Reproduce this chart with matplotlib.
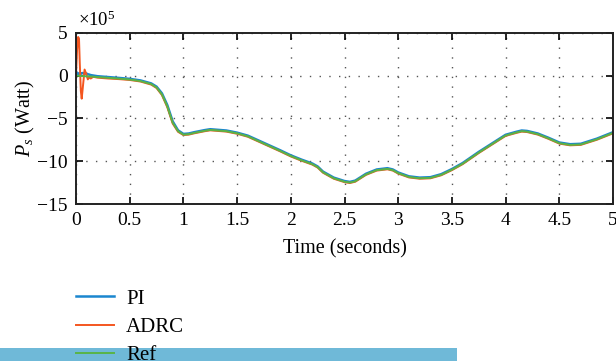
import matplotlib
matplotlib.use("Agg")
import matplotlib.pyplot as plt
from matplotlib.patches import Rectangle

plt.rcParams['font.family'] = ['Liberation Serif', 'DejaVu Serif']
plt.rcParams['mathtext.fontset'] = 'custom'
plt.rcParams['mathtext.rm'] = 'Liberation Serif'
plt.rcParams['mathtext.it'] = 'Liberation Serif:italic'

# time (s)
t = [0.0, 0.01, 0.02, 0.028, 0.035, 0.045, 0.053, 0.065, 0.08, 0.095, 0.11, 0.125, 0.137,
     0.16, 0.2, 0.3, 0.4, 0.5, 0.6, 0.7, 0.75, 0.8, 0.85, 0.9, 0.95, 1.0, 1.05, 1.1,
     1.2, 1.25, 1.3, 1.4, 1.5, 1.6, 1.75, 1.9, 2.0, 2.1, 2.2, 2.25, 2.3, 2.4, 2.5, 2.55,
     2.6, 2.7, 2.8, 2.9, 2.95, 3.0, 3.1, 3.2, 3.3, 3.4, 3.5, 3.6, 3.75, 3.9, 4.0, 4.1,
     4.15, 4.2, 4.3, 4.4, 4.5, 4.6, 4.7, 4.75, 4.85, 5.0]

# P_s values (x1e5 W)
ref = [0.0, -0.01, -0.02, -0.03, -0.04, -0.05, -0.06, -0.07, -0.08, -0.09, -0.1, -0.11, -0.12,
       -0.14, -0.18, -0.27, -0.36, -0.47, -0.65, -1.0, -1.4, -2.2, -3.6, -5.5, -6.5, -6.9, -6.85, -6.7,
       -6.45, -6.35, -6.4, -6.5, -6.75, -7.1, -7.95, -8.8, -9.4, -9.9, -10.35, -10.7, -11.3, -12.0, -12.4, -12.5,
       -12.35, -11.55, -11.05, -10.9, -11.05, -11.4, -11.85, -12.0, -11.95, -11.6, -11.0, -10.3, -9.0, -7.8, -7.0, -6.65,
       -6.5, -6.55, -6.85, -7.35, -7.9, -8.1, -8.05, -7.85, -7.45, -6.7]

pi = [0.0, 0.35, 0.1, 0.15, 0.3, 0.2, 0.25, 0.3, 0.2, 0.25, 0.15, 0.1, 0.05,
      0.0, -0.08, -0.18, -0.28, -0.39, -0.57, -0.92, -1.3, -2.08, -3.45, -5.35, -6.4, -6.82, -6.77, -6.62,
      -6.37, -6.27, -6.32, -6.42, -6.67, -7.02, -7.87, -8.72, -9.32, -9.82, -10.27, -10.62, -11.22, -11.92, -12.32, -12.42,
      -12.27, -11.47, -10.97, -10.82, -10.97, -11.32, -11.77, -11.92, -11.87, -11.52, -10.92, -10.22, -8.92, -7.72, -6.92, -6.57,
      -6.42, -6.47, -6.77, -7.27, -7.82, -8.02, -7.97, -7.77, -7.37, -6.62]

adrc = [0.0, 3.0, 4.5, 4.3, 1.5, -1.8, -2.7, -1.2, 0.7, 0.2, -0.45, -0.2, -0.35,
        -0.15, -0.25, -0.35, -0.42, -0.52, -0.7, -1.06, -1.46, -2.28, -3.7, -5.6, -6.57, -6.95, -6.9, -6.75,
        -6.5, -6.4, -6.45, -6.55, -6.8, -7.15, -8.0, -8.85, -9.45, -9.95, -10.4, -10.75, -11.35, -12.05, -12.45, -12.55,
        -12.4, -11.6, -11.1, -10.95, -11.1, -11.45, -11.9, -12.05, -12.0, -11.65, -11.05, -10.35, -9.05, -7.85, -7.05, -6.7,
        -6.55, -6.6, -6.9, -7.4, -7.95, -8.15, -8.1, -7.9, -7.5, -6.75]

x_ticks = [0, 0.5, 1, 1.5, 2, 2.5, 3, 3.5, 4, 4.5, 5]
x_labels = ['0', '0.5', '1', '1.5', '2', '2.5', '3', '3.5', '4', '4.5', '5']
y_ticks = [-15, -10, -5, 0, 5]
y_labels = ['\u221215', '\u221210', '\u22125', '0', '5']

c_pi = '#1A86CF'
c_adrc = '#F4561F'
c_ref = '#59B447'

fig = plt.figure(figsize=(6.16, 3.61), dpi=100)
ax = fig.add_axes([76/616, 1-204/361, (613-76)/616, (204-32.7)/361])

l1, = ax.plot(t, pi, color=c_pi, lw=1.8, label='PI')
l2, = ax.plot(t, adrc, color=c_adrc, lw=1.4, label='ADRC')
l3, = ax.plot(t, ref, color=c_ref, lw=1.4, label='Ref')

ax.set_xlim(0, 5)
ax.set_ylim(-15, 5)
ax.set_xticks(x_ticks)
ax.set_xticklabels(x_labels)
ax.set_yticks(y_ticks)
ax.set_yticklabels(y_labels)
ax.tick_params(direction='in', length=5, width=1.2, labelsize=14, top=True, right=True, pad=6)
ax.grid(True, linestyle=(0, (1, 6)), color='#555555', linewidth=1.0)
for s in ax.spines.values():
    s.set_linewidth(1.4)
    s.set_color('#222222')

ax.set_xlabel('Time (seconds)', fontsize=14.5, labelpad=7)
ax.set_ylabel('$P_s$ (Watt)', fontsize=14.5, labelpad=0)
fig.text(78/616, 1-20/361, r'$\times$10$^5$', fontsize=13.5, va='center', ha='left')

fig.patches.append(Rectangle((0, 0), 457/616, 13/361, transform=fig.transFigure,
                             facecolor='#6FB9D8', edgecolor='none', zorder=-1))

fig.legend(handles=[l1, l2, l3], loc='upper left', bbox_to_anchor=(76/616, 1-289/361),
           frameon=False, fontsize=15, handlelength=1.8, handletextpad=0.6,
           labelspacing=0.42, borderpad=0, borderaxespad=0)

fig.savefig('out.png', dpi=100)
